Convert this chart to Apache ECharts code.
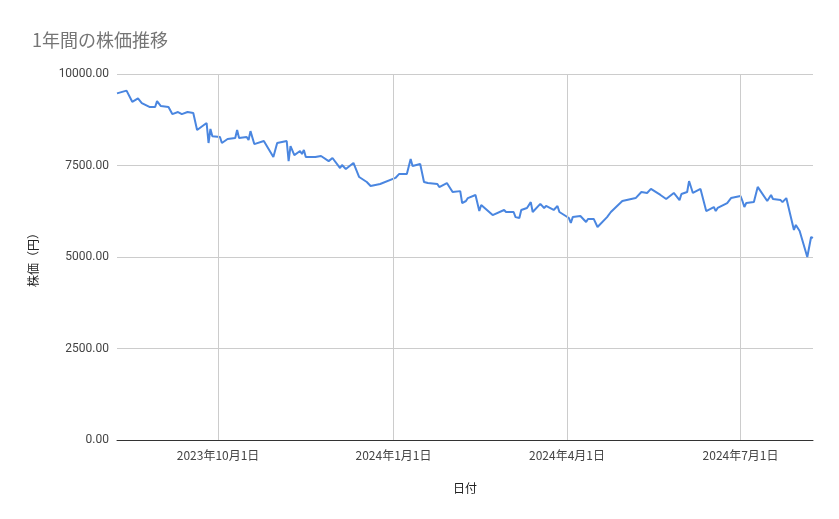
<!DOCTYPE html>
<html>
<head>
<meta charset="utf-8">
<script src="https://cdn.jsdelivr.net/npm/echarts@6/dist/echarts.min.js"></script>
<style>html,body{margin:0;padding:0;background:#fff}#chart{width:839px;height:519px}</style>
</head>
<body>
<div id="chart"></div>
<script>
var dates = ['2023-08-09','2023-08-14','2023-08-17','2023-08-20','2023-08-22','2023-08-26','2023-08-29','2023-08-30','2023-09-01','2023-09-05',
  '2023-09-07','2023-09-10','2023-09-12','2023-09-15','2023-09-18','2023-09-20','2023-09-25','2023-09-26','2023-09-27','2023-09-28',
  '2023-10-02','2023-10-03','2023-10-06','2023-10-10','2023-10-11','2023-10-12','2023-10-16','2023-10-17','2023-10-18','2023-10-20',
  '2023-10-25','2023-10-30','2023-11-01','2023-11-06','2023-11-07','2023-11-08','2023-11-10','2023-11-13','2023-11-14','2023-11-15',
  '2023-11-16','2023-11-21','2023-11-24','2023-11-28','2023-11-30','2023-12-04','2023-12-05','2023-12-07','2023-12-11','2023-12-14',
  '2023-12-18','2023-12-20','2023-12-25','2024-01-02','2024-01-04','2024-01-08','2024-01-10','2024-01-11','2024-01-15','2024-01-17',
  '2024-01-19','2024-01-24','2024-01-25','2024-01-29','2024-01-30','2024-02-01','2024-02-05','2024-02-06','2024-02-08','2024-02-09',
  '2024-02-13','2024-02-15','2024-02-16','2024-02-22','2024-02-28','2024-02-29','2024-03-04','2024-03-05','2024-03-07','2024-03-08',
  '2024-03-11','2024-03-13','2024-03-14','2024-03-18','2024-03-20','2024-03-21','2024-03-25','2024-03-27','2024-03-28','2024-04-02',
  '2024-04-03','2024-04-04','2024-04-08','2024-04-11','2024-04-12','2024-04-15','2024-04-17','2024-04-22','2024-04-23','2024-04-24',
  '2024-04-25','2024-04-30','2024-05-07','2024-05-10','2024-05-13','2024-05-15','2024-05-20','2024-05-23','2024-05-27','2024-05-28',
  '2024-05-30','2024-05-31','2024-06-03','2024-06-04','2024-06-06','2024-06-10','2024-06-13','2024-06-17','2024-06-18','2024-06-19',
  '2024-06-24','2024-06-26','2024-06-27','2024-07-01','2024-07-02','2024-07-03','2024-07-04','2024-07-08','2024-07-10','2024-07-11',
  '2024-07-15','2024-07-17','2024-07-18','2024-07-22','2024-07-23','2024-07-25','2024-07-29','2024-07-30','2024-08-01','2024-08-05',
  '2024-08-07','2024-08-08'];
var prices = [9470,9545,9240,9335,9205,9100,9100,9260,9125,9100,
  8905,8960,8905,8960,8935,8470,8660,8115,8500,8300,
  8280,8115,8225,8250,8470,8250,8280,8195,8440,8085,
  8170,7730,8115,8170,7620,8030,7785,7895,7815,7925,
  7730,7730,7760,7620,7705,7430,7515,7405,7570,7185,
  7050,6940,6995,7160,7270,7270,7680,7485,7540,7050,
  7020,6995,6910,7020,6940,6775,6800,6475,6530,6610,
  6695,6255,6420,6145,6285,6230,6230,6090,6065,6285,
  6340,6500,6230,6450,6340,6395,6285,6395,6230,6065,
  5930,6090,6120,5955,6040,6040,5820,6090,6090,6230,
  6230,6530,6610,6775,6750,6860,6695,6585,6750,6775,
  6555,6720,6775,7075,6750,6860,6255,6365,6255,6340,
  6475,6610,6585,6665,6530,6365,6475,6500,6915,6940,
  6530,6695,6585,6555,6500,6610,5740,5875,5710,5000,
  5545,5520];
var tickDates = ['2023-10-01','2024-01-01','2024-04-01','2024-07-01'];
var yTicks = [0,2500,5000,7500,10000];

function ts(s){ var p = s.split('-'); return Date.UTC(+p[0], +p[1]-1, +p[2]); }
var seriesData = dates.map(function(d, i){ return [ts(d), prices[i]]; });
var tickTs = tickDates.map(ts);

var chart = echarts.init(document.getElementById('chart'));
chart.setOption({
  animation: false,
  title: {
    text: '1年間の株価推移', left: 27, top: 26,
    textStyle: {fontFamily: 'Noto Sans CJK JP', fontSize: 18, fontWeight: 'normal', color: '#757575'}
  },
  grid: {left: 117, right: 26, top: 74, bottom: 79},
  xAxis: {
    type: 'value',
    min: ts('2023-08-09'), max: ts('2024-08-08'),
    name: '日付', nameLocation: 'middle', nameGap: 42,
    nameTextStyle: {fontFamily: 'Noto Sans CJK JP', fontSize: 12, color: '#222'},
    axisLine: {show: true, lineStyle: {color: '#333'}},
    axisTick: {show: false},
    splitLine: {show: false},
    axisLabel: {
      customValues: tickTs,
      fontFamily: 'Noto Sans CJK JP', fontSize: 12, color: '#444', margin: 9,
      formatter: function(v){ var d = new Date(v); return d.getUTCFullYear() + '年' + (d.getUTCMonth()+1) + '月' + d.getUTCDate() + '日'; }
    }
  },
  yAxis: {
    type: 'value', min: 0, max: 10000, interval: 2500,
    name: '株価（円）', nameLocation: 'middle', nameGap: 78, nameRotate: 90,
    nameTextStyle: {fontFamily: 'Noto Sans CJK JP', fontSize: 12, color: '#222'},
    axisLine: {show: false}, axisTick: {show: false},
    splitLine: {lineStyle: {color: '#cccccc'}},
    axisLabel: {
      fontFamily: 'Roboto', fontSize: 12, color: '#444', margin: 8,
      formatter: function(v){ return yTicks.indexOf(v) >= 0 ? v.toFixed(2) : ''; }
    }
  },
  series: [{
    type: 'line', data: seriesData, showSymbol: false,
    lineStyle: {color: '#4a86e0', width: 2},
    itemStyle: {color: '#4a86e0'},
    markLine: {
      silent: true, symbol: 'none', label: {show: false},
      lineStyle: {color: '#cccccc', type: 'solid', width: 1},
      data: tickTs.map(function(t){ return {xAxis: t}; })
    },
    z: 3
  }]
});
</script>
</body>
</html>
